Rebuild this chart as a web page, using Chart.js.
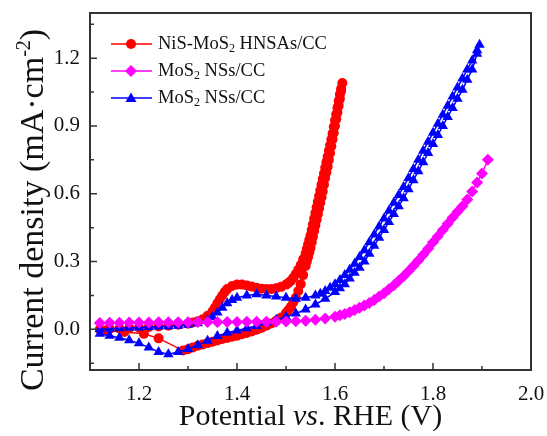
<!DOCTYPE html>
<html>
<head>
<meta charset="utf-8">
<script src="https://cdn.jsdelivr.net/npm/chart.js@4.4.1/dist/chart.umd.min.js"></script>
<style>
  html, body { margin: 0; padding: 0; background: #fff; }
  #wrap { width: 547px; height: 436px; position: relative; }
</style>
</head>
<body>
<div id="wrap"><canvas id="cv"></canvas></div>
<script>
// NiS-MoS2 HNSAs/CC: forward scan then reverse scan
const red_v = [1.12,1.14,1.16,1.18,1.20,1.22,1.24,1.26,1.28,1.30,1.31,1.32,1.33,1.34,1.35,1.355,1.36,1.365,1.37,1.375,1.38,1.39,1.40,1.41,1.42,1.43,1.44,1.45,1.46,1.47,1.48,1.49,1.50,1.505,1.51,1.515,1.52,1.525,1.53,1.535,1.54,
  1.5425,1.545,1.5475,1.55,1.5525,1.555,1.5575,1.56,1.5625,1.565,1.5675,1.57,1.5725,1.575,1.5775,1.58,1.5825,1.585,1.5875,1.59,1.5925,1.595,1.5975,1.60,1.6025,1.605,1.6075,1.61,1.6125,1.615,
  1.6125,1.61,1.6075,1.605,1.6025,1.60,1.5975,1.595,1.5925,1.59,1.5875,1.585,1.5825,1.58,1.5775,1.575,1.5725,1.57,1.5675,1.565,1.5625,1.56,1.5575,1.555,1.5525,1.55,1.5475,1.545,1.5425,1.54,
  1.535,1.53,1.525,1.52,1.515,1.51,1.505,1.50,1.49,1.48,1.47,1.46,1.45,1.44,1.43,1.42,1.41,1.40,1.39,1.38,1.37,1.36,1.35,1.34,1.33,1.32,1.31,1.30,1.29,1.24,1.21,1.17,1.13]
const red_j = [0.000,0.002,0.004,0.006,0.008,0.010,0.013,0.016,0.020,0.025,0.030,0.036,0.045,0.060,0.080,0.097,0.115,0.133,0.150,0.165,0.178,0.192,0.198,0.198,0.194,0.189,0.184,0.180,0.178,0.178,0.182,0.188,0.198,0.205,0.215,0.228,0.245,0.263,0.285,0.310,0.335,
  0.355,0.375,0.395,0.415,0.440,0.465,0.490,0.515,0.540,0.565,0.590,0.615,0.640,0.665,0.690,0.715,0.740,0.765,0.790,0.815,0.840,0.865,0.895,0.925,0.952,0.980,1.010,1.040,1.065,1.090,
  1.055,1.020,0.990,0.960,0.930,0.900,0.870,0.840,0.810,0.780,0.750,0.720,0.695,0.670,0.640,0.610,0.585,0.560,0.535,0.510,0.485,0.460,0.435,0.410,0.385,0.360,0.340,0.320,0.300,0.280,
  0.240,0.200,0.170,0.140,0.120,0.100,0.085,0.072,0.052,0.038,0.026,0.016,0.006,-0.002,-0.010,-0.016,-0.022,-0.028,-0.033,-0.038,-0.043,-0.049,-0.055,-0.061,-0.067,-0.073,-0.080,-0.088,-0.094,-0.040,-0.020,-0.012,-0.005]

// MoS2 NSs/CC (magenta diamonds)
const mag_v = [1.12,1.14,1.16,1.18,1.20,1.22,1.24,1.26,1.28,1.30,1.32,1.34,1.36,1.38,1.40,1.42,1.44,1.46,1.48,1.50,1.52,1.54,1.56,1.58,1.60,1.61,1.62,1.63,1.64,1.65,1.66,1.67,1.68,1.69,1.70,1.71,1.72,1.73,1.74,1.75,1.76,1.77,1.78,1.79,1.80,1.81,1.82,1.83,1.84,1.85,1.86,1.87,1.88,1.89,1.90,1.912]
const mag_j = [0.028,0.029,0.029,0.030,0.030,0.030,0.031,0.031,0.031,0.031,0.032,0.032,0.032,0.032,0.032,0.033,0.033,0.034,0.034,0.035,0.036,0.038,0.042,0.048,0.056,0.062,0.068,0.076,0.085,0.095,0.105,0.117,0.130,0.145,0.160,0.177,0.195,0.215,0.235,0.257,0.280,0.305,0.330,0.357,0.385,0.412,0.440,0.467,0.495,0.520,0.545,0.575,0.610,0.650,0.690,0.750]

// MoS2 NSs/CC (blue triangles): forward then reverse
const blue_v = [1.12,1.14,1.16,1.18,1.20,1.22,1.24,1.26,1.28,1.30,1.32,1.34,1.35,1.36,1.37,1.38,1.39,1.40,1.42,1.44,1.46,1.48,1.50,1.52,1.54,1.56,1.57,1.58,1.59,1.60,1.61,1.62,1.63,1.64,1.65,1.66,1.67,1.68,1.69,1.70,1.71,1.72,1.73,1.74,1.75,1.76,1.77,1.78,1.79,1.80,1.81,1.82,1.83,1.84,1.85,1.86,1.87,1.88,1.89,1.895,
  1.89,1.88,1.87,1.86,1.85,1.84,1.83,1.82,1.81,1.80,1.79,1.78,1.77,1.76,1.75,1.74,1.73,1.72,1.71,1.70,1.69,1.68,1.67,1.66,1.65,1.64,1.63,1.62,1.61,1.60,1.58,1.56,1.54,1.52,1.50,1.48,1.46,1.44,1.42,1.40,1.38,1.36,1.34,1.32,1.30,1.28,1.26,1.24,1.22,1.20,1.18,1.16,1.14,1.12]
const blue_j = [0.000,0.003,0.005,0.007,0.008,0.010,0.012,0.014,0.016,0.020,0.027,0.040,0.055,0.075,0.095,0.115,0.130,0.140,0.150,0.155,0.150,0.145,0.140,0.135,0.140,0.150,0.158,0.170,0.184,0.200,0.218,0.240,0.264,0.290,0.320,0.350,0.385,0.420,0.455,0.490,0.525,0.560,0.595,0.630,0.670,0.710,0.750,0.790,0.830,0.870,0.910,0.950,0.990,1.030,1.070,1.110,1.150,1.190,1.235,1.260,
  1.220,1.150,1.105,1.060,1.020,0.980,0.940,0.900,0.860,0.820,0.780,0.740,0.700,0.660,0.620,0.580,0.545,0.510,0.475,0.440,0.405,0.370,0.335,0.300,0.272,0.250,0.225,0.200,0.182,0.165,0.135,0.110,0.088,0.070,0.055,0.042,0.030,0.015,0.005,-0.005,-0.015,-0.030,-0.050,-0.070,-0.087,-0.100,-0.110,-0.100,-0.080,-0.062,-0.048,-0.037,-0.028,-0.020]

const xTicks = [1.2, 1.4, 1.6, 1.8, 2.0]
const xMinor = [1.1, 1.3, 1.5, 1.7, 1.9]
const yTicks = [0.0, 0.3, 0.6, 0.9, 1.2]
const yMinor = [-0.15, 0.15, 0.45, 0.75, 1.05, 1.35]

const SERIF = '"Liberation Serif", "Times New Roman", serif'

function pts(xs, ys) {
    return xs.map((x, i) => ({x: x, y: ys[i]}))
}

// draws text pieces one after another (sub/superscripts)
function richText(ctx, parts, x, y, align) {
    var total = 0
    parts.forEach(p => { ctx.font = p.font; total += ctx.measureText(p.t).width })
    var cx = align == 'center' ? x - total / 2 : x
    parts.forEach(p => {
        ctx.font = p.font
        ctx.fillText(p.t, cx, y + (p.dy || 0))
        cx += ctx.measureText(p.t).width
    })
}

function marker(ctx, style, x, y, r, color) {
    ctx.fillStyle = color
    ctx.beginPath()
    if (style == 'circle') {
        ctx.arc(x, y, r, 0, Math.PI * 2)
    } else if (style == 'rectRot') {
        ctx.moveTo(x, y - r * 1.2); ctx.lineTo(x + r * 1.2, y); ctx.lineTo(x, y + r * 1.2); ctx.lineTo(x - r * 1.2, y)
        ctx.closePath()
    } else {
        ctx.moveTo(x, y - r * 1.1); ctx.lineTo(x + r * 1.1, y + r * 0.8); ctx.lineTo(x - r * 1.1, y + r * 0.8)
        ctx.closePath()
    }
    ctx.fill()
}

function noPad(s) {
    s.paddingTop = 0; s.paddingBottom = 0; s.paddingLeft = 0; s.paddingRight = 0
}

const decor = {
    id: 'decor',
    afterDraw(chart) {
        const ctx = chart.ctx
        const a = chart.chartArea
        const xs = chart.scales.x, ys = chart.scales.y
        ctx.save()
        ctx.strokeStyle = '#333'
        ctx.lineWidth = 2
        ctx.strokeRect(a.left, a.top, a.right - a.left, a.bottom - a.top)
        ctx.lineWidth = 1.5
        ctx.beginPath()
        xTicks.forEach(v => { var p = xs.getPixelForValue(v); ctx.moveTo(p, a.bottom); ctx.lineTo(p, a.bottom - 7) })
        xMinor.forEach(v => { var p = xs.getPixelForValue(v); ctx.moveTo(p, a.bottom); ctx.lineTo(p, a.bottom - 4) })
        yTicks.forEach(v => { var p = ys.getPixelForValue(v); ctx.moveTo(a.left, p); ctx.lineTo(a.left + 7, p) })
        yMinor.forEach(v => { var p = ys.getPixelForValue(v); ctx.moveTo(a.left, p); ctx.lineTo(a.left + 4, p) })
        ctx.stroke()

        // axis titles
        ctx.fillStyle = '#111'
        ctx.textBaseline = 'alphabetic'
        ctx.textAlign = 'left'
        richText(ctx, [
            {t: 'Potential ', font: '30px ' + SERIF},
            {t: 'vs', font: 'italic 30px ' + SERIF},
            {t: '. RHE (V)', font: '30px ' + SERIF}
        ], (a.left + a.right) / 2, 425, 'center')
        ctx.save()
        ctx.translate(43, 210)
        ctx.rotate(-Math.PI / 2)
        richText(ctx, [
            {t: 'Current density (mA\u00b7cm', font: '34px ' + SERIF},
            {t: '-2', font: '20px ' + SERIF, dy: -13},
            {t: ')', font: '34px ' + SERIF}
        ], 0, 0, 'center')
        ctx.restore()

        // legend
        const rows = [
            {ds: 0, y: 44, parts: [{t: 'NiS-MoS', font: '18.5px ' + SERIF}, {t: '2', font: '12px ' + SERIF, dy: 5}, {t: ' HNSAs/CC', font: '18.5px ' + SERIF}]},
            {ds: 1, y: 71, parts: [{t: 'MoS', font: '18.5px ' + SERIF}, {t: '2', font: '12px ' + SERIF, dy: 5}, {t: ' NSs/CC', font: '18.5px ' + SERIF}]},
            {ds: 2, y: 98, parts: [{t: 'MoS', font: '18.5px ' + SERIF}, {t: '2', font: '12px ' + SERIF, dy: 5}, {t: ' NSs/CC', font: '18.5px ' + SERIF}]}
        ]
        rows.forEach(r => {
            var d = chart.data.datasets[r.ds]
            ctx.strokeStyle = d.borderColor
            ctx.lineWidth = 1.5
            ctx.beginPath(); ctx.moveTo(111, r.y); ctx.lineTo(152, r.y); ctx.stroke()
            marker(ctx, d.pointStyle, 131, r.y, 5, d.backgroundColor)
            ctx.fillStyle = '#111'
            ctx.textBaseline = 'middle'
            richText(ctx, r.parts, 158, r.y, 'left')
        })
        ctx.restore()
    }
}

new Chart(document.getElementById('cv'), {
    type: 'scatter',
    data: {
        datasets: [
            {
                label: 'NiS-MoS2 HNSAs/CC',
                data: pts(red_v, red_j),
                borderColor: '#ff0000', backgroundColor: '#ff0000',
                pointStyle: 'circle', pointRadius: 5, borderWidth: 1.5, pointBorderWidth: 0,
                order: 2
            },
            {
                label: 'MoS2 NSs/CC',
                data: pts(mag_v, mag_j),
                borderColor: '#ff00ff', backgroundColor: '#ff00ff',
                pointStyle: 'rectRot', pointRadius: 6, borderWidth: 1.5, pointBorderWidth: 0,
                order: 0
            },
            {
                label: 'MoS2 NSs/CC',
                data: pts(blue_v, blue_j),
                borderColor: '#0000ff', backgroundColor: '#0000ff',
                pointStyle: 'triangle', pointRadius: 6, borderWidth: 1.5, pointBorderWidth: 0,
                order: 1
            }
        ]
    },
    options: {
        responsive: true,
        maintainAspectRatio: false,
        animation: false,
        showLine: true,
        layout: { padding: { left: 0, right: 16, top: 13, bottom: 0 } },
        plugins: { legend: { display: false }, tooltip: { enabled: false } },
        scales: {
            x: {
                type: 'linear', min: 1.1, max: 2.0,
                afterBuildTicks: (s) => { s.ticks = xTicks.map(v => ({value: v})) },
                afterFit: (s) => { s.height = 66; noPad(s) },
                grid: { display: false, drawTicks: false },
                border: { display: false },
                ticks: { color: '#111', padding: 12, font: { family: SERIF, size: 21 }, callback: (v) => v.toFixed(1) }
            },
            y: {
                type: 'linear', min: -0.18, max: 1.4,
                afterBuildTicks: (s) => { s.ticks = yTicks.map(v => ({value: v})) },
                afterFit: (s) => { s.width = 90; noPad(s) },
                grid: { display: false, drawTicks: false },
                border: { display: false },
                ticks: { color: '#111', padding: 10, font: { family: SERIF, size: 21 }, callback: (v) => v.toFixed(1) }
            }
        }
    },
    plugins: [decor]
})
</script>
</body>
</html>
